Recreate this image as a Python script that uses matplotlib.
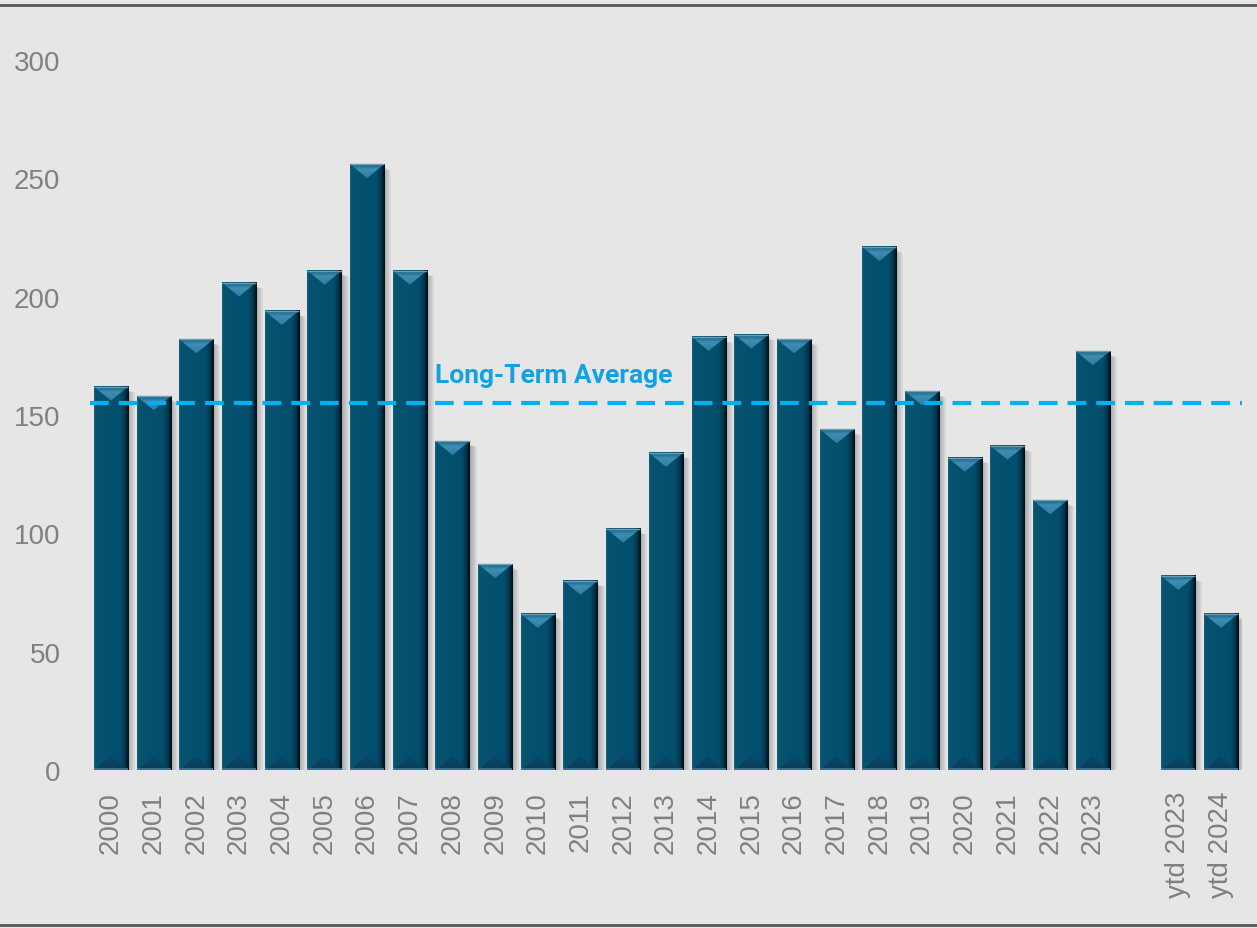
import numpy as np
import matplotlib
matplotlib.use("Agg")
import matplotlib.pyplot as plt
from matplotlib.patches import Rectangle, Polygon
from matplotlib.lines import Line2D
from matplotlib.colors import to_rgb

years = [str(y) for y in range(2000, 2024)]
year_vals = [162, 158, 182, 206, 194, 211, 256, 211, 139, 87, 66, 80, 102,
             134, 183, 184, 182, 144, 221, 160, 132, 137, 114, 177]
ytd_labels = ["ytd 2023", "ytd 2024"]
ytd_vals = [82, 66]
long_term_avg = 155

labels = years + ytd_labels
values = year_vals + ytd_vals
# one empty slot between the full years and the year-to-date pair
pos = np.r_[np.arange(len(years)), len(years) + 1 + np.arange(len(ytd_labels))]

bg = "#e6e6e6"
fig = plt.figure(figsize=(12.57, 9.29), dpi=100, facecolor=bg)
ax = fig.add_axes([0.0713, 0.170, 0.917, 0.7643])
ax.set_facecolor(bg)
ax.set_xlim(-0.5, pos[-1] + 0.5)
ax.set_ylim(0, 300)

bars = ax.bar(pos, values, width=0.8, color="#05506f", zorder=3)

# size of one pixel in data units
px = (ax.get_xlim()[1] - ax.get_xlim()[0]) / (0.917 * 1257)
py = 300 / (0.7643 * 929)


def grad(c1, c2, n=64):
    a, b = np.array(to_rgb(c1)), np.array(to_rgb(c2))
    t = np.linspace(0, 1, n)[:, None]
    return a + (b - a) * t


# horizontal body shading: slight light left edge, narrow dark right edge
body = np.concatenate([grad("#12607f", "#06526f", 4), grad("#06526f", "#044e6d", 44),
                       grad("#044e6d", "#033a52", 8), grad("#033a52", "#000a10", 8)])
body = body[None, :, :]

for b in bars:
    x0, w, h = b.get_x(), b.get_width(), b.get_height()
    x1 = x0 + w
    xc = x0 + w / 2
    bh = 14 * py
    # soft drop shadow to the right
    for k in range(1, 8):
        ax.add_patch(Rectangle((x0 + k * px, -k * py * 0.4), w, h - 3 * py,
                               facecolor="black", alpha=0.04, lw=0, zorder=2))
    b.set_visible(False)
    ax.imshow(body, extent=(x0, x1, 0, h), aspect="auto",
              interpolation="bilinear", zorder=3)
    # top bevel
    top = Polygon([(x0, h), (x1, h), (xc, h - bh)], closed=True,
                  facecolor="none", edgecolor="none")
    ax.add_patch(top)
    timg = np.concatenate([grad("#2f7ea3", "#3c8db3", 20), grad("#3c8db3", "#1c5f80", 12)])[:, None, :]
    ti = ax.imshow(timg, extent=(x0, x1, h - bh, h), aspect="auto", origin="lower",
                   interpolation="bilinear", zorder=4)
    ti.set_clip_path(top)
    ax.plot([x0, x1], [h, h], color="#6a9fb8", lw=1, zorder=5, solid_capstyle="butt")
    # bottom bevel
    bot = Polygon([(x0, 0), (x1, 0), (xc, bh)], closed=True,
                  facecolor="none", edgecolor="none")
    ax.add_patch(bot)
    bimg = grad("#0c3d55", "#06496a", 32)[:, None, :]
    bi = ax.imshow(bimg, extent=(x0, x1, 0, bh), aspect="auto", origin="lower",
                   interpolation="bilinear", zorder=4)
    bi.set_clip_path(bot)
    ax.plot([x0, x1], [py, py], color="#3f7c99", lw=1.2, zorder=5, solid_capstyle="butt")

ax.set_xlim(-0.5, pos[-1] + 0.5)
ax.set_ylim(0, 300)

# long-term average
ax.axhline(long_term_avg, color="#00b0f0", lw=3, dashes=(4.5, 2.4), zorder=6)
ax.text(7.6, long_term_avg + 7, "Long-Term Average", color="#12a2e2",
        fontsize=19, fontweight="bold", va="bottom", ha="left",
        family=["Liberation Sans Narrow", "Roboto"], zorder=6)

ax.set_xticks(pos)
ax.set_xticklabels(labels, rotation=90, fontsize=20, color="#808080",
                   family="Liberation Sans")
ax.set_yticks(np.arange(0, 301, 50))
ax.set_yticklabels([str(v) for v in range(0, 301, 50)], fontsize=20,
                   color="#808080", family="Liberation Sans")
ax.tick_params(axis="x", length=0, pad=15)
ax.tick_params(axis="y", length=0, pad=21)
for s in ax.spines.values():
    s.set_visible(False)

# frame lines across the top and bottom of the figure
fig.add_artist(Line2D([0, 1], [1 - 6 / 929, 1 - 6 / 929], color="#595959", lw=2))
fig.add_artist(Line2D([0, 1], [3 / 929, 3 / 929], color="#595959", lw=2))

fig.savefig("out.png", dpi=100, facecolor=bg)
